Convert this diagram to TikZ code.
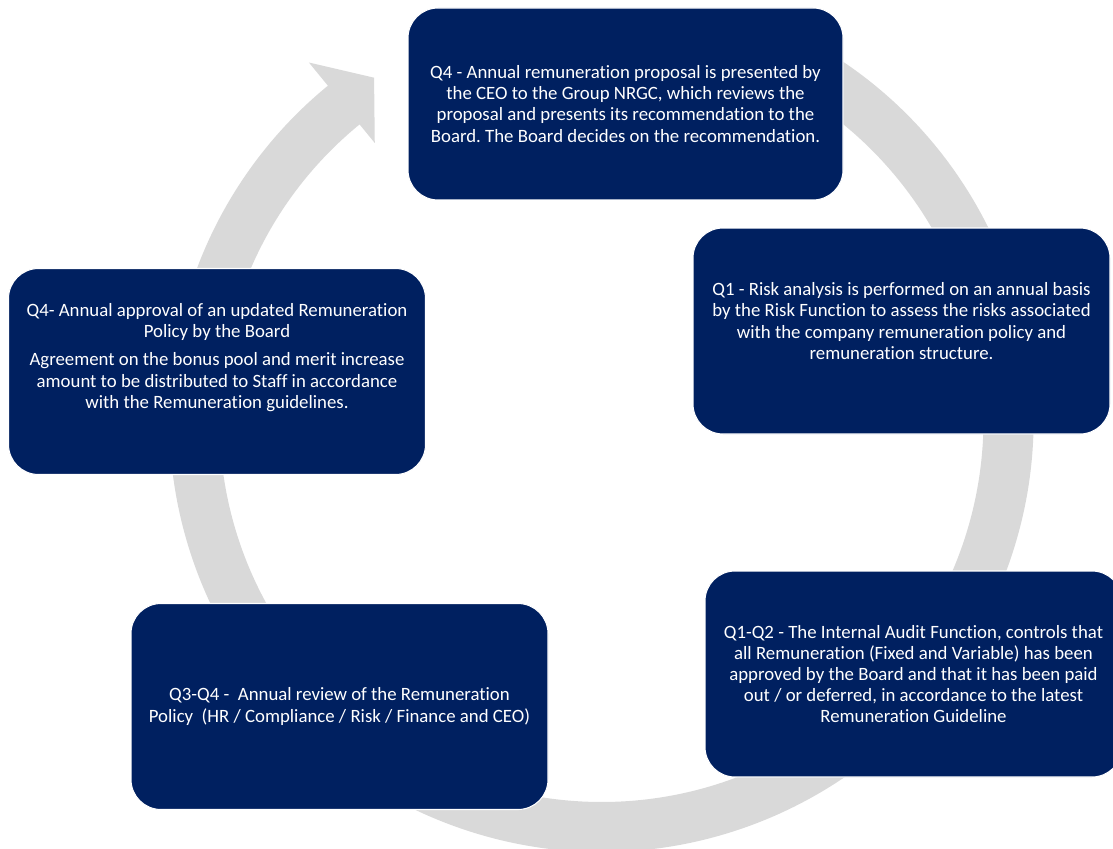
\documentclass[tikz,border=0pt]{standalone}
\usepackage{fontspec}
\setmainfont{Carlito}[Ligatures=NoCommon]
\frenchspacing
\usetikzlibrary{calc, positioning}
\definecolor{navy}{HTML}{002060}
\definecolor{ringgrey}{HTML}{D9D9D9}
\tikzset{stage/.style={fill=navy, draw=white, line width=0.6pt, rounded corners=0.6cm, minimum width=8.34cm, minimum height=4.12cm},
  note/.style={text=white, align=center, font=\fontsize{10.7}{12}\selectfont}}

\begin{document}
\begin{tikzpicture}
  \useasboundingbox (0,0) rectangle (22.26,16.96);
  \clip (0,0) rectangle (22.26,16.96);
  % cycle arrow behind the stages
  \begin{scope}[shift={(12.03,8.56)}]
    \fill[ringgrey] (70:8.64) arc[start angle=70, end angle=-230.7, radius=8.64] -- (129.3:9.24) -- (123.6:8.22) -- (129.3:7.16) -- (129.3:7.64) arc[start angle=-230.7, end angle=70, radius=7.64] -- cycle;
  \end{scope}
  % stages
  \node[stage, minimum width=8.70cm, minimum height=3.84cm] (proposal) at (12.51,14.88) {};
  \node[stage] (risk) at (18.03,10.34) {};
  \node[stage] (audit) at (18.27,3.48) {};
  \node[stage] (review) at (6.79,2.83) {};
  \node[stage] (approval) at (4.34,9.53) {};
  \node[note] (proposaltxt) at (proposal) {Q4 - Annual remuneration proposal is presented by\\the CEO to the Group NRGC, which reviews the\\proposal and presents its recommendation to the\\Board. The Board decides on the recommendation.};
  \node[note] (risktxt) at ([yshift=0.2cm]risk.center) {Q1 - Risk analysis is performed on an annual basis\\by the Risk Function to assess the risks associated\\with the company remuneration policy and\\remuneration structure.};
  \node[note] (audittxt) at (audit) {Q1-Q2 - The Internal Audit Function, controls that\\all Remuneration (Fixed and Variable) has been\\approved by the Board and that it has been paid\\out / or deferred, in accordance to the latest\\Remuneration Guideline};
  \node[note] (reviewtxt) at (review) {Q3-Q4 -\ \ Annual review of the Remuneration\\Policy\ \ (HR / Compliance / Risk / Finance and CEO)};
  \node[note] (approvaltxt) at ([yshift=0.28cm]approval.center) {Q4- Annual approval of an updated Remuneration\\Policy by the Board\\[4pt]Agreement on the bonus pool and merit increase\\amount to be distributed to Staff in accordance\\with the Remuneration guidelines.};
\end{tikzpicture}
\end{document}
